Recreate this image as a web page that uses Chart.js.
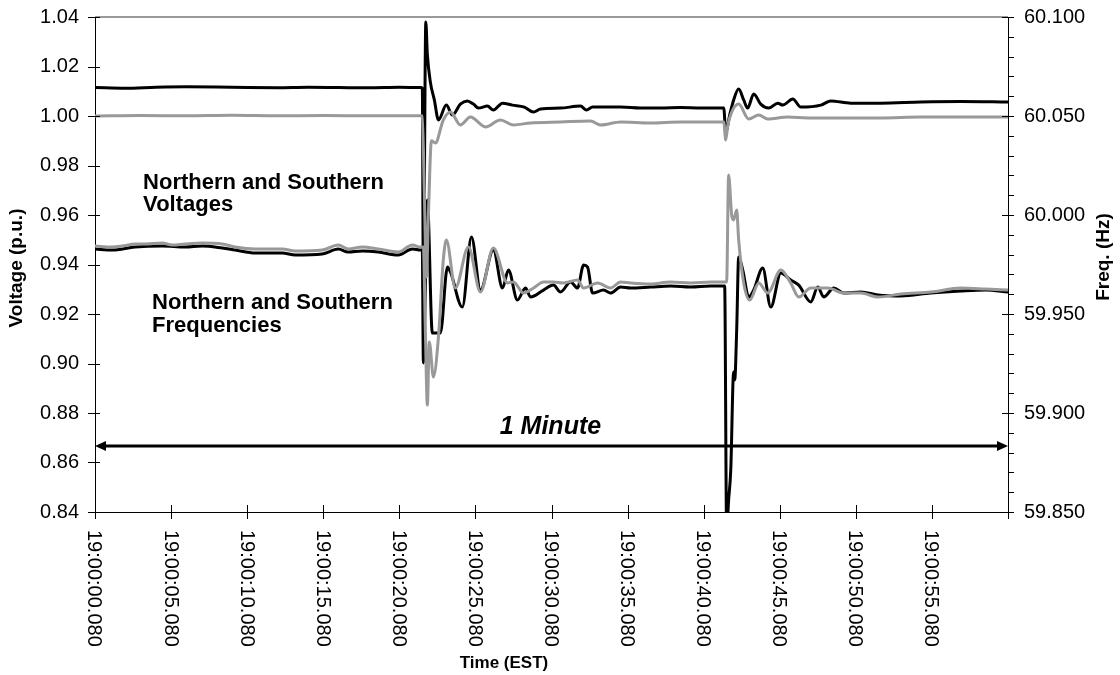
<!DOCTYPE html>
<html><head><meta charset="utf-8">
<script src="https://cdn.jsdelivr.net/npm/chart.js@4"></script>
<style>html,body{margin:0;padding:0;background:#fff}canvas{display:block}</style>
</head><body>
<canvas id="c" width="1120" height="675"></canvas>
<script>
// ---- Data (time in seconds after 19:00:00.080) ----
const xTickTimes = [0,5,10,15,20,25,30,35,40,45,50,55];
const xTickLabels = ['19:00:00.080','19:00:05.080','19:00:10.080','19:00:15.080','19:00:20.080','19:00:25.080','19:00:30.080','19:00:35.080','19:00:40.080','19:00:45.080','19:00:50.080','19:00:55.080'];

// Northern voltage (p.u.) - black
const vNorthT = [0,2,4,6,8,10,12,14,16,18,20,21.38,21.51,21.58,21.74,21.84,22.04,22.30,22.57,23.09,23.49,24.01,24.47,24.87,25.20,25.79,26.18,26.78,27.43,28.22,28.82,29.28,30.59,31.91,32.30,32.70,34.54,35.86,37.17,38.49,39.80,41.32,41.45,41.71,41.97,42.30,42.63,42.89,43.29,43.75,44.28,44.87,45.20,45.86,46.38,47.70,48.36,49.67,51.64,54.28,56.91,60];
const vNorth  = [1.0115,1.0112,1.0116,1.0118,1.0117,1.0115,1.0114,1.0116,1.0115,1.0114,1.0116,1.0115,1.0112,0.930,1.038,1.025,1.0137,1.0065,0.9984,1.0044,1.0004,1.0048,1.0061,1.0048,1.0032,1.0040,1.0024,1.0052,1.0044,1.0036,1.0016,1.0028,1.0032,1.0040,1.0024,1.0036,1.0036,1.0032,1.0032,1.0034,1.0032,1.0032,0.9935,1.0004,1.0065,1.0109,1.0065,1.0032,1.0089,1.0048,1.0032,1.0052,1.0044,1.0069,1.0036,1.0044,1.0061,1.0052,1.0052,1.0057,1.0059,1.0057];

// Southern voltage (p.u.) - grey
const vSouthT = [0,3,6,9,12,15,18,21.38,21.51,21.64,21.78,21.91,22.11,22.37,22.89,23.36,24.01,24.67,25.66,26.64,27.50,28.62,30.59,32.57,33.22,34.54,36.51,38.49,41.32,41.45,41.58,41.84,42.30,42.96,43.62,44.21,45.53,46.84,49.67,51.64,54.28,60];
const vSouth  = [1.0000,1.0002,1.0001,1.0003,1.0001,1.0002,1.0001,1.0001,1.0000,0.970,0.935,0.960,0.990,0.9891,0.9984,1.0016,0.9964,0.9996,0.9956,0.9984,0.9964,0.9972,0.9976,0.9980,0.9964,0.9976,0.9972,0.9976,0.9976,0.9903,0.9960,1.0016,1.0048,0.9988,1.0004,0.9988,0.9996,0.9992,0.9992,0.9992,0.9996,0.9996];

// Northern frequency (Hz) - black
const fNorthT = [0,1.12,2.63,4.41,5.92,7.04,8.36,9.21,10.53,12.30,13.16,14.93,15.99,16.64,17.57,18.62,19.93,20.86,21.38,21.51,21.58,21.84,22.17,22.70,23.16,23.36,24.14,24.74,25.33,26.18,26.78,27.17,27.76,28.29,28.62,29.47,30.13,30.59,31.25,31.71,32.11,32.37,32.70,33.42,33.88,34.54,35.20,36.51,37.83,39.14,40.46,41.38,41.51,41.64,41.78,41.97,42.04,42.17,42.30,42.57,42.96,43.29,43.88,44.41,45.07,45.72,46.25,47.04,47.50,47.89,48.55,49.21,50.33,51.45,52.96,54.93,56.91,58.55,60];
const fNorth  = [59.9828,59.9823,59.9838,59.9843,59.9838,59.9843,59.9833,59.9823,59.9808,59.9808,59.9798,59.9803,59.9828,59.9813,59.9818,59.9813,59.9798,59.9828,59.9823,59.9823,59.9253,60.0076,59.9404,59.9404,59.9737,59.9712,59.9535,59.9889,59.9621,59.9823,59.9631,59.9722,59.9571,59.9631,59.9586,59.9621,59.9646,59.9611,59.9662,59.9631,59.9747,59.9737,59.9606,59.9621,59.9606,59.9636,59.9631,59.9636,59.9641,59.9636,59.9641,59.9641,59.8410,59.8560,59.8712,59.9207,59.9167,59.9419,59.9788,59.9722,59.9586,59.9621,59.9732,59.9535,59.9707,59.9672,59.9646,59.9561,59.9636,59.9586,59.9631,59.9606,59.9611,59.9596,59.9591,59.9606,59.9616,59.9621,59.9611];

// Southern frequency (Hz) - grey
const fSouthT = [0,1.12,1.78,2.63,3.29,4.41,5.07,5.92,7.04,8.36,9.21,10.53,12.30,13.16,14.93,15.99,16.64,17.57,18.62,19.93,20.86,21.38,21.58,21.71,21.84,21.97,22.24,22.57,22.89,23.09,23.68,24.54,25.33,26.18,27.11,27.50,28.16,28.82,29.47,30.13,30.79,31.71,32.11,33.03,33.88,34.54,35.20,36.51,37.83,39.14,40.46,41.51,41.64,41.84,41.97,42.17,42.30,42.63,43.03,43.62,44.21,45.07,45.72,46.25,47.04,48.16,49.21,50.33,51.45,52.96,54.93,56.91,58.55,60];
const fSouth  = [59.9843,59.9838,59.9843,59.9854,59.9854,59.9859,59.9848,59.9854,59.9859,59.9854,59.9838,59.9828,59.9828,59.9818,59.9823,59.9848,59.9828,59.9838,59.9828,59.9813,59.9848,59.9838,59.9838,59.9419,59.9040,59.9359,59.9182,59.9384,59.9773,59.9874,59.9631,59.9838,59.9611,59.9833,59.9657,59.9662,59.9606,59.9631,59.9662,59.9662,59.9657,59.9672,59.9631,59.9657,59.9631,59.9662,59.9657,59.9652,59.9662,59.9657,59.9662,59.9662,60.0202,60.0000,59.9975,60.0025,59.9874,59.9657,59.9571,59.9657,59.9606,59.9722,59.9657,59.9586,59.9631,59.9631,59.9606,59.9606,59.9586,59.9601,59.9611,59.9631,59.9626,59.9621];

// Annotations
const noteVoltages = ['Northern and Southern', 'Voltages'];
const noteFreqs = ['Northern and Southern', 'Frequencies'];
const minuteLabel = '1 Minute';

const toPts = (ts, vs) => ts.map((t, i) => ({x: t, y: vs[i]}));

const FONT = '"Liberation Sans", Arial, sans-serif';

const decor = {
  id: 'decor',
  afterDraw(chart) {
    const ctx = chart.ctx, a = chart.chartArea;
    const xs = chart.scales.x, yl = chart.scales.yV, yr = chart.scales.yF;
    ctx.save();
    // top border
    ctx.strokeStyle = '#999'; ctx.lineWidth = 2;
    ctx.beginPath(); ctx.moveTo(a.left, a.top); ctx.lineTo(a.right, a.top); ctx.stroke();
    ctx.strokeStyle = '#000'; ctx.lineWidth = 1;
    // left ticks
    for (let k = 0; k <= 10; k++) {
      const y = Math.round(yl.getPixelForValue(0.84 + k * 0.02)) + 0.5;
      ctx.beginPath(); ctx.moveTo(a.left - 7, y); ctx.lineTo(a.left + 5, y); ctx.stroke();
    }
    // right ticks (major + minor)
    for (let k = 0; k <= 25; k++) {
      const y = Math.round(yr.getPixelForValue(59.85 + k * 0.01)) + 0.5;
      ctx.beginPath();
      ctx.moveTo(k % 5 === 0 ? a.right - 6 : a.right, y);
      ctx.lineTo(a.right + 6, y); ctx.stroke();
    }
    // x ticks
    for (let t = 0; t <= 60; t += 5) {
      const x = Math.round(xs.getPixelForValue(t)) + 0.5;
      ctx.beginPath(); ctx.moveTo(x, a.bottom - 7); ctx.lineTo(x, a.bottom + 7); ctx.stroke();
    }
    // x tick labels, rotated clockwise
    ctx.fillStyle = '#000';
    ctx.font = '20px ' + FONT;
    ctx.textAlign = 'left'; ctx.textBaseline = 'middle';
    xTickTimes.forEach((t, i) => {
      const x = xs.getPixelForValue(t);
      ctx.save(); ctx.translate(x - 1, a.bottom + 18); ctx.rotate(Math.PI / 2);
      ctx.fillText(xTickLabels[i], 0, 0); ctx.restore();
    });
    // axis titles
    ctx.font = 'bold 17px ' + FONT; ctx.textAlign = 'center'; ctx.textBaseline = 'middle';
    ctx.fillText('Time (EST)', 504, 663);
    ctx.font = 'bold 19px ' + FONT;
    ctx.save(); ctx.translate(17, 268); ctx.rotate(-Math.PI / 2);
    ctx.fillText('Voltage (p.u.)', 0, 0); ctx.restore();
    ctx.save(); ctx.translate(1104, 257); ctx.rotate(-Math.PI / 2);
    ctx.fillText('Freq. (Hz)', 0, 0); ctx.restore();

    // annotations
    ctx.font = 'bold 22px ' + FONT; ctx.textAlign = 'left'; ctx.textBaseline = 'middle';
    const xv = xs.getPixelForValue(3.16);
    ctx.fillText(noteVoltages[0], xv, yl.getPixelForValue(0.9729));
    ctx.fillText(noteVoltages[1], xv, yl.getPixelForValue(0.9641));
    const xf = xs.getPixelForValue(3.75);
    ctx.fillText(noteFreqs[0], xf, yl.getPixelForValue(0.9244));
    ctx.fillText(noteFreqs[1], xf, yl.getPixelForValue(0.9152));
    ctx.font = 'italic bold 25px ' + FONT; ctx.textAlign = 'center';
    ctx.fillText(minuteLabel, xs.getPixelForValue(29.93), yl.getPixelForValue(0.8745));
    // double arrow
    const ya = yl.getPixelForValue(0.8667);
    const x0 = xs.getPixelForValue(0), x1 = xs.getPixelForValue(60);
    ctx.lineWidth = 3;
    ctx.beginPath(); ctx.moveTo(x0 + 8, ya); ctx.lineTo(x1 - 8, ya); ctx.stroke();
    ctx.beginPath(); ctx.moveTo(x0, ya); ctx.lineTo(x0 + 11, ya - 5); ctx.lineTo(x0 + 11, ya + 5); ctx.closePath(); ctx.fill();
    ctx.beginPath(); ctx.moveTo(x1, ya); ctx.lineTo(x1 - 11, ya - 5); ctx.lineTo(x1 - 11, ya + 5); ctx.closePath(); ctx.fill();
    ctx.restore();
  }
};

const fitV = (w) => function (s) { s.width = w; s.paddingTop = 0; s.paddingBottom = 0; };

new Chart(document.getElementById('c'), {
  type: 'line',
  data: {
    datasets: [
      {label: 'Southern frequency', data: toPts(fSouthT, fSouth), yAxisID: 'yF', borderColor: '#999999', borderWidth: 3},
      {label: 'Southern voltage', data: toPts(vSouthT, vSouth), yAxisID: 'yV', borderColor: '#999999', borderWidth: 3},
      {label: 'Northern frequency', data: toPts(fNorthT, fNorth), yAxisID: 'yF', borderColor: '#000000', borderWidth: 3},
      {label: 'Northern voltage', data: toPts(vNorthT, vNorth), yAxisID: 'yV', borderColor: '#000000', borderWidth: 3}
    ]
  },
  options: {
    responsive: false, animation: false, devicePixelRatio: 1,
    layout: {padding: {top: 17, left: 0, right: 0, bottom: 0}},
    elements: {point: {radius: 0}, line: {cubicInterpolationMode: 'monotone', borderJoinStyle: 'round', borderCapStyle: 'round'}},
    plugins: {legend: {display: false}, tooltip: {enabled: false}},
    scales: {
      x: {
        type: 'linear', min: 0, max: 60,
        grid: {display: false},
        border: {display: true, color: '#000', width: 1},
        ticks: {display: false, stepSize: 5},
        afterFit(s) { s.height = 163; s.paddingLeft = 0; s.paddingRight = 0; }
      },
      yV: {
        position: 'left', min: 0.84, max: 1.04,
        grid: {display: false, drawTicks: false},
        border: {display: true, color: '#000', width: 1},
        ticks: {stepSize: 0.02, padding: 16, color: '#000', font: {family: FONT, size: 20},
          callback: v => Number(v).toFixed(2)},
        afterFit: fitV(95)
      },
      yF: {
        position: 'right', min: 59.85, max: 60.1,
        grid: {display: false, drawTicks: false},
        border: {display: true, color: '#000', width: 1},
        ticks: {stepSize: 0.05, padding: 16, color: '#000', font: {family: FONT, size: 20},
          callback: v => Number(v).toFixed(3)},
        afterFit: fitV(112)
      }
    }
  },
  plugins: [decor]
});
</script>
</body></html>
